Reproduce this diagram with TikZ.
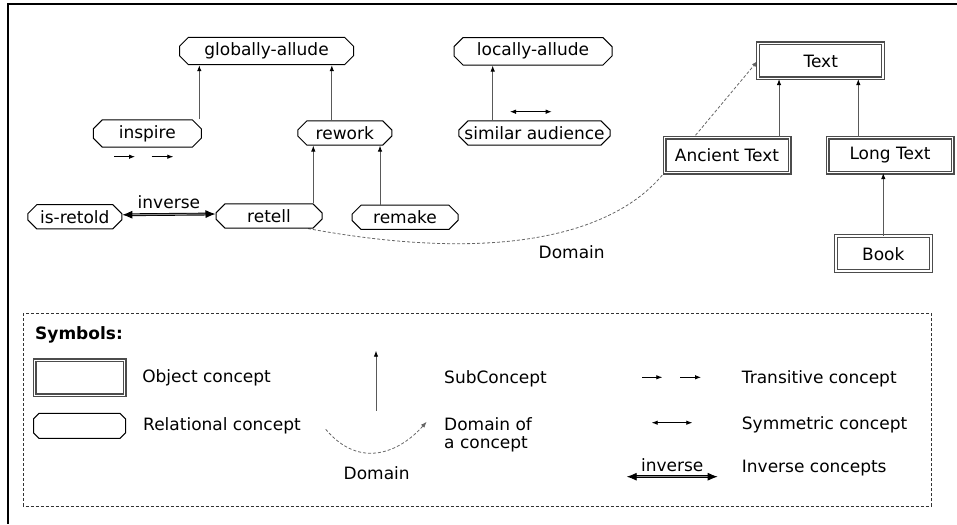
\documentclass[tikz,border=0pt]{standalone}
\usepackage{fontspec}
\setmainfont{DejaVu Sans}
\usetikzlibrary{shapes.misc, arrows.meta, positioning, backgrounds}
\tikzset{
  relblock/.style={
    chamfered rectangle, chamfered rectangle xsep=4.5pt, chamfered rectangle ysep=4.5pt,
    draw=black, fill=white, line width=1pt, inner sep=1pt, minimum height=22pt
  },
  objblock/.style={
    rectangle, draw=black!70, double=white, double distance=1.6pt, fill=white,
    line width=1.2pt, minimum width=125pt, minimum height=35pt, inner sep=2pt
  },
  lbl/.style={inner sep=0pt, anchor=west, align=left},
  arrow/.style={-{Latex[length=6pt,width=4.5pt,color=black]}, draw=black!65, line width=0.9pt},
  transarrow/.style={-{Latex[length=6pt,width=4.5pt]}, line width=0.8pt},
  symarrow/.style={{Latex[length=6pt,width=4.5pt]}-{Latex[length=6pt,width=4.5pt]}, line width=0.8pt},
  invarrow/.style={{Latex[length=10pt,width=8pt]}-{Latex[length=10pt,width=8pt]},
    draw=black, double=black!45, double distance=1pt, line width=0.9pt},
  domarrow/.style={-{Latex[length=6pt,width=4.5pt]}, dash pattern=on 3pt off 2pt,
    draw=black!60, line width=0.8pt},
}

\begin{document}
\begin{tikzpicture}[x=1pt, y=-1pt, font=\fontsize{17}{18}\selectfont]
    \useasboundingbox (0,0) rectangle (957,524);
    \draw[line width=2.5pt] (957,4) -- (8,4) -- (8,524);

    % relational concepts
    \node[relblock, minimum width=174pt] (galc) at (266.5,51) {globally-allude};
    \node[relblock, minimum width=158pt] (lalc) at (533,51.3) {locally-allude};
    \node[relblock, minimum width=108pt] (inspire) at (147.3,133.5) {inspire};
    \node[relblock, minimum width=94pt] (rework) at (344.8,133) {rework};
    \node[relblock, minimum width=148pt] (similar) at (534.5,133) {similar audience};
    \node[relblock, minimum width=94pt] (isretold) at (74.8,216.8) {is-retold};
    \node[relblock, minimum width=106pt] (retell) at (269,216) {retell};
    \node[relblock, minimum width=106pt] (remake) at (405,217.3) {remake};

    % object concepts
    \node[objblock] (text) at (820.7,61) {Text};
    \node[objblock] (ancient) at (727,155) {Ancient Text};
    \node[objblock] (longtext) at (890,155) {Long Text};
    \node[objblock, minimum width=95pt] (book) at (883.3,253.7) {Book};

    \draw[arrow] ([xshift=52pt]inspire.north) -- ([xshift=52pt]inspire.north |- galc.south);
    \draw[arrow] ([xshift=-13pt]rework.north) -- ([xshift=-13pt]rework.north |- galc.south);
    \draw[arrow] ([xshift=44.3pt]retell.north) -- ([xshift=44.3pt]retell.north |- rework.south);
    \draw[arrow] ([xshift=-25pt]remake.north) -- ([xshift=-25pt]remake.north |- rework.south);
    \draw[arrow] ([xshift=-41.8pt]similar.north) -- ([xshift=-41.8pt]similar.north |- lalc.south);
    \draw[arrow] ([xshift=52pt]ancient.north) -- ([xshift=52pt]ancient.north |- text.south);
    \draw[arrow] ([xshift=-31.7pt]longtext.north) -- ([xshift=-31.7pt]longtext.north |- text.south);
    \draw[arrow] (book.north) -- (book.north |- longtext.south);
    \draw[invarrow] ([yshift=2pt]isretold.east) -- ([yshift=2pt]retell.west)
      node[midway, above=5pt, inner sep=0pt] (invlbl) {inverse};

    % transitive / symmetric marks
    \coordinate (tr1) at (114,156.7);
    \coordinate (tr2) at (151.7,156.7);
    \draw[transarrow] (tr1) -- ++(21,0);
    \draw[transarrow] (tr2) -- ++(21.6,0);
    \coordinate (sym) at (510,111.7);
    \draw[symarrow] (sym) -- ++(41.7,0);

    \begin{scope}[on background layer]
      \draw[domarrow] ([xshift=39pt]retell.south) .. controls (500,264) and (615,234) ..
        (ancient.south west) -- (text.west);
    \end{scope}
    \node (domlbl) at (571.7,252.3) {Domain};

    % symbols
    \draw[dash pattern=on 3pt off 2pt, line width=0.8pt, draw=black!80] (23.3,313.3) rectangle (931,506);
    \node[lbl, font=\fontsize{17}{18}\selectfont\bfseries] (symb) at (35,335) {Symbols:};
    \node[objblock, minimum width=90pt] (objsym) at (79.5,377.8) {};
    \node[relblock, minimum width=92pt, minimum height=25pt] (relsym) at (79.5,425.8) {\vphantom{Xg}};
    \node[lbl, right=17pt of objsym] (objlbl) {Object concept};
    \node[lbl, right=17pt of relsym] (rellbl) {Relational concept};

    \coordinate (subA) at (376,410.7);
    \coordinate (subB) at (376,350.7);
    \draw[arrow] (subA) -- (subB);
    \node[lbl] (sublbl) at (444,379) {SubConcept};

    \coordinate (domA) at (325.7,429.3);
    \coordinate (domB) at (426.7,421.7);
    \draw[domarrow] (domA) .. controls (360,470) and (400,452) .. (domB);
    \node (domlbl2) at (376.7,473.3) {Domain};
    \node[lbl] (domconc) at (444,434.5) {Domain of\\a concept};

    \coordinate (tr3) at (642.3,377.3);
    \coordinate (tr4) at (680,377.3);
    \draw[transarrow] (tr3) -- ++(20,0);
    \draw[transarrow] (tr4) -- ++(21,0);
    \node[lbl] (translbl) at (741.7,379) {Transitive concept};

    \coordinate (sym2) at (651.7,422.7);
    \draw[symarrow] (sym2) -- ++(40.6,0);
    \node[lbl] (symlbl) at (741.7,425) {Symmetric concept};

    \coordinate (invA) at (626.7,476.7);
    \coordinate (invB) at (717.7,476.7);
    \draw[invarrow] (invA) -- (invB) node[midway, above=5pt, inner sep=0pt] (invlbl2) {inverse};
    \node[lbl] (invconc) at (741.7,468.3) {Inverse concepts};
\end{tikzpicture}
\end{document}
